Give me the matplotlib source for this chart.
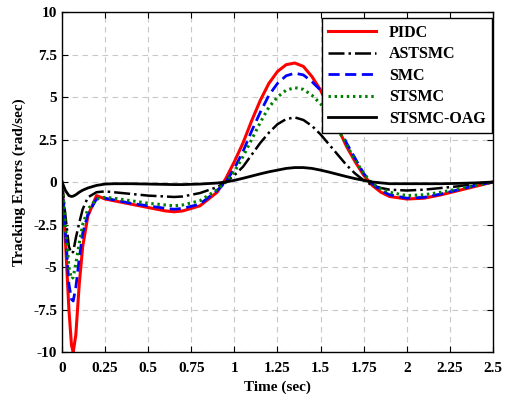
import numpy as np
import matplotlib
matplotlib.use("Agg")
import matplotlib.pyplot as plt

plt.rcParams["font.family"] = "Liberation Serif"
plt.rcParams["font.weight"] = "bold"
plt.rcParams["font.size"] = 11

# time samples (sec)
t = [0, 0.02, 0.04, 0.055, 0.065, 0.08, 0.1, 0.12, 0.15, 0.2, 0.25, 0.3, 0.4, 0.5,
     0.6, 0.65, 0.7, 0.8, 0.9, 0.95, 1.0, 1.05, 1.1, 1.15, 1.2, 1.25, 1.3, 1.35,
     1.4, 1.45, 1.5, 1.55, 1.6, 1.65, 1.7, 1.75, 1.8, 1.85, 1.9, 2.0, 2.1, 2.2,
     2.3, 2.4, 2.5]

pidc = [0, -3.5, -7.5, -9.6, -10.0, -9.0, -6.0, -3.8, -2.0, -0.8, -1.0, -1.1, -1.3,
        -1.5, -1.7, -1.75, -1.7, -1.4, -0.6, 0.2, 1.2, 2.3, 3.6, 4.8, 5.8, 6.5, 6.9,
        7.0, 6.8, 6.2, 5.4, 4.3, 3.2, 2.1, 1.2, 0.4, -0.2, -0.6, -0.85, -1.0, -0.95,
        -0.75, -0.5, -0.25, 0]
astsmc = [0, -2.0, -3.8, -4.2, -4.1, -3.3, -2.4, -1.6, -0.9, -0.6, -0.55, -0.6,
          -0.7, -0.8, -0.85, -0.88, -0.85, -0.65, -0.3, 0.0, 0.4, 0.9, 1.6, 2.3,
          2.9, 3.4, 3.7, 3.8, 3.65, 3.3, 2.8, 2.2, 1.6, 1.0, 0.5, 0.1, -0.2, -0.35,
          -0.45, -0.5, -0.45, -0.35, -0.25, -0.1, 0]
smc = [0, -3.0, -6.0, -6.9, -7.0, -6.2, -4.5, -3.0, -1.9, -1.0, -0.95, -1.05, -1.25,
       -1.4, -1.55, -1.6, -1.55, -1.3, -0.5, 0.0, 0.8, 1.8, 3.0, 4.1, 5.1, 5.8, 6.25,
       6.4, 6.3, 5.9, 5.4, 4.5, 3.4, 2.3, 1.4, 0.5, -0.1, -0.5, -0.75, -0.95, -0.9,
       -0.7, -0.45, -0.2, 0]
stsmc = [0, -2.5, -5.0, -5.7, -5.6, -4.8, -3.6, -2.5, -1.6, -1.0, -0.9, -0.95, -1.1,
         -1.25, -1.35, -1.4, -1.35, -1.1, -0.45, 0.0, 0.6, 1.5, 2.5, 3.5, 4.4, 5.0,
         5.4, 5.55, 5.45, 5.1, 4.6, 3.9, 3.1, 2.2, 1.3, 0.5, -0.1, -0.4, -0.6, -0.8,
         -0.75, -0.6, -0.4, -0.2, 0]
oag = [0, -0.5, -0.8, -0.85, -0.83, -0.75, -0.6, -0.48, -0.35, -0.2, -0.12, -0.1,
       -0.1, -0.12, -0.14, -0.15, -0.15, -0.12, -0.06, 0.0, 0.1, 0.22, 0.35, 0.48,
       0.6, 0.7, 0.8, 0.85, 0.85, 0.8, 0.7, 0.58, 0.45, 0.32, 0.2, 0.1, 0.0, -0.05,
       -0.1, -0.1, -0.1, -0.1, -0.08, -0.05, 0]

xticks = [0, 0.25, 0.5, 0.75, 1, 1.25, 1.5, 1.75, 2, 2.25, 2.5]
xtick_labels = ["0", "0.25", "0.5", "0.75", "1", "1.25", "1.5", "1.75", "2", "2.25", "2.5"]
yticks = [-10, -7.5, -5, -2.5, 0, 2.5, 5, 7.5, 10]
ytick_labels = ["-10", "-7.5", "-5", "-2.5", "0", "2.5", "5", "7.5", "10"]

fig = plt.figure(figsize=(5.05, 3.96), dpi=100)
ax = fig.add_axes([0.1228, 0.111, 0.8534, 0.8587])

ax.plot(t, pidc, color="red", lw=2.2, label="PIDC")
ax.plot(t, astsmc, color="black", lw=1.8, ls="-.", label="ASTSMC")
ax.plot(t, smc, color="blue", lw=2.0, ls=(0, (4, 2)), label="SMC")
ax.plot(t, stsmc, color="green", lw=2.2, ls=(0, (0.8, 1.2)), label="STSMC")
ax.plot(t, oag, color="black", lw=2.0, label="STSMC-OAG")

ax.set_xlim(0, 2.5)
ax.set_ylim(-10, 10)
ax.set_xticks(xticks)
ax.set_xticklabels(xtick_labels)
ax.set_yticks(yticks)
ax.set_yticklabels(ytick_labels)
ax.tick_params(direction="in", top=True, right=True, length=4, width=0.8)
ax.tick_params(axis="x", pad=7)
ax.grid(True, ls=(0, (5, 4)), color="#c8c8c8", lw=0.8)
for s in ax.spines.values():
    s.set_linewidth(1.0)

ax.set_xlabel("Time (sec)", fontweight="bold", labelpad=4)
ax.set_ylabel("Tracking Errors (rad/sec)", fontweight="bold", labelpad=5)

leg = ax.legend(loc="upper right", bbox_to_anchor=(0.998, 0.982), fancybox=False,
                framealpha=1, edgecolor="black", handlelength=3.0,
                borderaxespad=0, labelspacing=0.35,
                prop={"weight": "bold", "size": 11.5})
leg.get_frame().set_linewidth(1.0)

fig.savefig("out.png", dpi=100)
